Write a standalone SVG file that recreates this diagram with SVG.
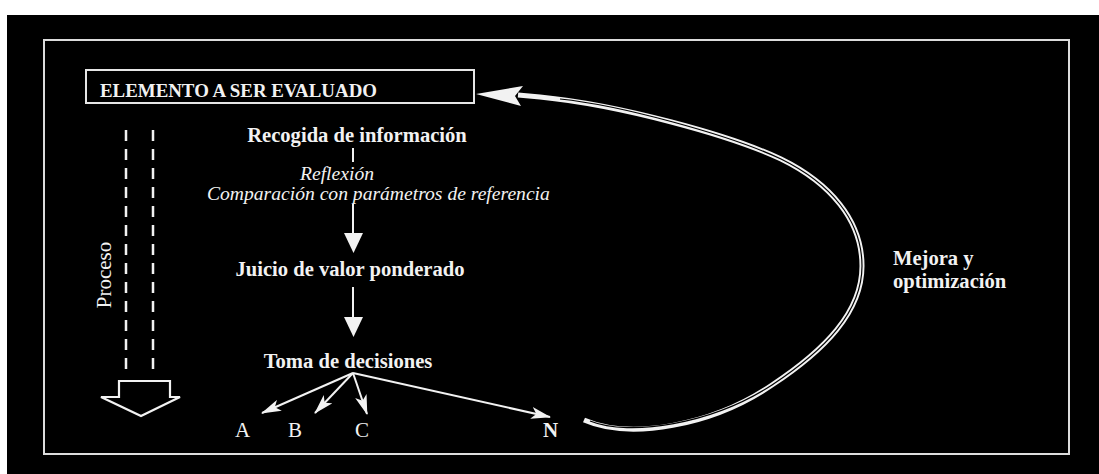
<svg xmlns="http://www.w3.org/2000/svg" width="1099" height="474" viewBox="0 0 1099 474">
  <style>
    .t { font-family: "Liberation Serif", "Times New Roman", serif; fill: #f2f2f2; }
    .b { font-weight: bold; font-size: 20.6px; }
    .i { font-style: italic; font-size: 19.6px; }
    .ln { stroke: #f2f2f2; fill: none; }
  </style>
  <defs>
    <marker id="barb" viewBox="0 0 20 12" refX="19" refY="6" markerWidth="20" markerHeight="12" markerUnits="userSpaceOnUse" orient="auto">
      <path d="M0,0 L20,6 L0,12 L5,6 z" fill="#f2f2f2"/>
    </marker>
  </defs>
  <rect x="0" y="0" width="1099" height="474" fill="#ffffff"/>
  <rect x="7" y="15" width="1092" height="459" fill="#000000"/>
  <rect x="44" y="40" width="1025" height="414" fill="none" stroke="#dcdcdc" stroke-width="2"/>

  <g id="elemento">
    <rect x="86" y="70" width="388" height="33" fill="#000" stroke="#e6e6e6" stroke-width="2"/>
    <text class="t" x="100" y="97" font-weight="bold" font-size="18.9">ELEMENTO A SER EVALUADO</text>
  </g>

  <g id="recogida">
    <text class="t b" x="357" y="142" text-anchor="middle">Recogida de información</text>
  </g>
  <g id="reflexion">
    <text class="t i" x="300" y="180">Reflexión</text>
    <text class="t i" x="207" y="200">Comparación con parámetros de referencia</text>
  </g>
  <g id="juicio">
    <text class="t b" x="350" y="276" text-anchor="middle">Juicio de valor ponderado</text>
  </g>
  <g id="toma">
    <text class="t b" x="348" y="368" text-anchor="middle">Toma de decisiones</text>
  </g>
  <g id="opciones">
    <text class="t" x="235" y="437" font-size="21">A</text>
    <text class="t" x="288" y="437" font-size="21">B</text>
    <text class="t" x="355" y="437" font-size="21">C</text>
    <text class="t" x="543" y="437" font-size="21" font-weight="bold">N</text>
  </g>
  <g id="mejora">
    <text class="t b" x="893" y="265">Mejora y</text>
    <text class="t b" x="893" y="288">optimización</text>
  </g>
  <g id="proceso">
    <line class="ln" x1="126" y1="130" x2="126" y2="376" stroke-width="2.5" stroke-dasharray="11 8"/>
    <line class="ln" x1="153" y1="130" x2="153" y2="376" stroke-width="2.5" stroke-dasharray="11 8"/>
    <polygon points="119,381 170,381 170,397 180,397 141,416 101,397 119,397" fill="#000" stroke="#f2f2f2" stroke-width="2.2" stroke-linejoin="miter"/>
    <text class="t" transform="translate(111,275) rotate(-90)" text-anchor="middle" font-size="21">Proceso</text>
  </g>

  <g id="connectors">
    <line class="ln" x1="353" y1="148" x2="353" y2="162" stroke-width="2"/>
    <line class="ln" x1="353" y1="204" x2="353" y2="236" stroke-width="2"/>
    <polygon points="344,233 363,233 353.5,253" fill="#f2f2f2"/>
    <line class="ln" x1="353" y1="287" x2="353" y2="320" stroke-width="2"/>
    <polygon points="344,317 363,317 353.5,337" fill="#f2f2f2"/>
    <line class="ln" x1="353" y1="373" x2="262" y2="413" stroke-width="2" marker-end="url(#barb)"/>
    <line class="ln" x1="353" y1="373" x2="315" y2="413" stroke-width="2" marker-end="url(#barb)"/>
    <line class="ln" x1="353" y1="373" x2="367" y2="414" stroke-width="2" marker-end="url(#barb)"/>
    <line class="ln" x1="353" y1="373" x2="550" y2="417" stroke-width="2" marker-end="url(#barb)"/>
    <path class="ln" d="M584,420 C630,440 712,426 772,385 C825,350 862,312 862,266 C862,220 830,183 781,159 C730,135 620,105 540,97 L518,95" stroke-width="5"/>
    <path d="M590,421 C630,437 712,424 772,385 C825,350 862,312 862,266 C862,220 830,183 781,159 C730,135 620,105 560,99" fill="none" stroke="#000" stroke-width="1.2"/>
    <polygon points="476,94 523,86 515,96 521,106" fill="#f2f2f2"/>
  </g>
</svg>
